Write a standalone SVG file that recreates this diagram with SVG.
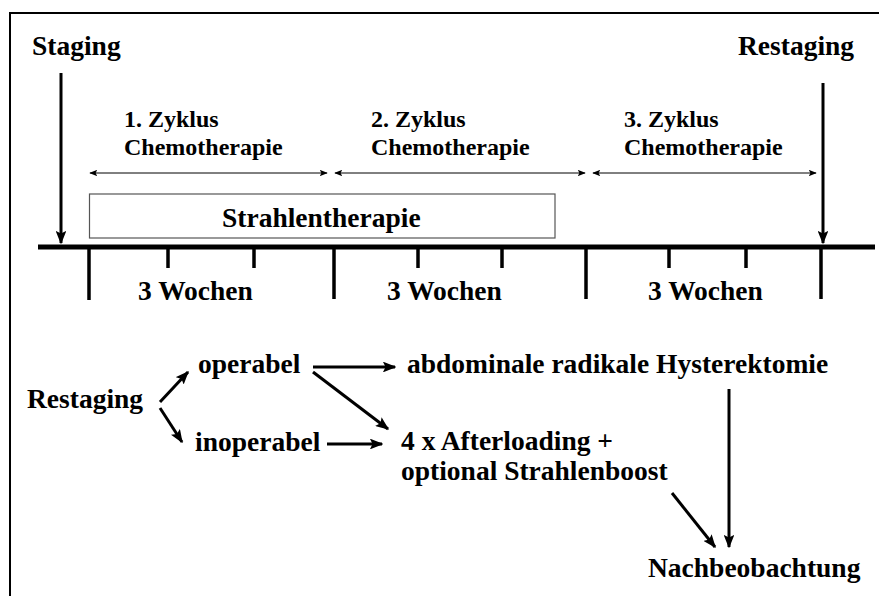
<svg xmlns="http://www.w3.org/2000/svg" width="879" height="596" viewBox="0 0 879 596">
<style>
text{font-family:"Liberation Serif","Times New Roman",serif;font-weight:bold;fill:#000}
.big{font-size:27.5px}
.mid{font-size:24px}
.thick{stroke:#000;stroke-width:3;fill:none}
.thin{stroke:#000;stroke-width:1;fill:none}
.tick{stroke:#000;stroke-width:3.5}
</style>
<defs>
<marker id="ah" viewBox="0 0 10 8" refX="9" refY="4" markerWidth="4.5" markerHeight="3.6" orient="auto" markerUnits="strokeWidth">
<path d="M0,0 L10,4 L0,8 L2,4 Z" fill="#000"/>
</marker>
<marker id="ahs" viewBox="0 0 10 8" refX="9" refY="4" markerWidth="8" markerHeight="6.4" orient="auto-start-reverse" markerUnits="strokeWidth">
<path d="M0,0 L10,4 L0,8 L2,4 Z" fill="#000"/>
</marker>
</defs>
<path d="M10,596 V13 H879" stroke="#000" stroke-width="2" fill="none"/>

<g id="timeline">
<line x1="38" y1="247" x2="875" y2="247" stroke="#000" stroke-width="5"/>
<line class="tick" x1="89" y1="247" x2="89" y2="300"/>
<line class="tick" x1="334" y1="247" x2="334" y2="299"/>
<line class="tick" x1="586" y1="247" x2="586" y2="299"/>
<line class="tick" x1="821" y1="247" x2="821" y2="299"/>
<line class="tick" x1="168" y1="247" x2="168" y2="268"/>
<line class="tick" x1="254" y1="247" x2="254" y2="268"/>
<line class="tick" x1="418" y1="247" x2="418" y2="268"/>
<line class="tick" x1="502" y1="247" x2="502" y2="268"/>
<line class="tick" x1="669" y1="247" x2="669" y2="268"/>
<line class="tick" x1="746" y1="247" x2="746" y2="268"/>
</g>

<g id="staging"><text class="big" x="32" y="55">Staging</text></g>
<g id="restaging-top"><text class="big" x="738" y="55">Restaging</text></g>

<g id="zyklus1"><text class="mid" x="124" y="127">1. Zyklus</text><text class="mid" x="124" y="155">Chemotherapie</text></g>
<g id="zyklus2"><text class="mid" x="371" y="127">2. Zyklus</text><text class="mid" x="371" y="155">Chemotherapie</text></g>
<g id="zyklus3"><text class="mid" x="624" y="127">3. Zyklus</text><text class="mid" x="624" y="155">Chemotherapie</text></g>

<g id="strahlentherapie">
<rect x="89.5" y="194" width="465.5" height="44" fill="#fff" stroke="#555" stroke-width="1.2"/>
<text class="big" x="222" y="227">Strahlentherapie</text>
</g>

<g id="wochen">
<text class="big" x="138" y="300">3 Wochen</text>
<text class="big" x="387" y="300">3 Wochen</text>
<text class="big" x="648" y="300">3 Wochen</text>
</g>

<g id="restaging-bottom"><text class="big" x="27" y="408">Restaging</text></g>
<g id="operabel"><text class="big" x="198" y="373">operabel</text></g>
<g id="inoperabel"><text class="big" x="195" y="451">inoperabel</text></g>
<g id="hysterektomie"><text class="big" x="407" y="373">abdominale radikale Hysterektomie</text></g>
<g id="afterloading"><text class="big" x="401" y="450">4 x Afterloading +</text><text class="big" x="401" y="480">optional Strahlenboost</text></g>
<g id="nachbeobachtung"><text class="big" x="648" y="577">Nachbeobachtung</text></g>

<g id="connectors">
<line class="thick" x1="61" y1="73" x2="61" y2="243" marker-end="url(#ah)"/>
<line class="thick" x1="823" y1="83" x2="823" y2="243" marker-end="url(#ah)"/>
<line class="thin" x1="90" y1="173" x2="327" y2="173" marker-start="url(#ahs)" marker-end="url(#ahs)"/>
<line class="thin" x1="335" y1="173" x2="585" y2="173" marker-start="url(#ahs)" marker-end="url(#ahs)"/>
<line class="thin" x1="593" y1="173" x2="816" y2="173" marker-start="url(#ahs)" marker-end="url(#ahs)"/>
<line class="thick" x1="160" y1="402" x2="188" y2="372" marker-end="url(#ah)"/>
<line class="thick" x1="160" y1="408" x2="182" y2="442" marker-end="url(#ah)"/>
<line class="thick" x1="313" y1="367" x2="395" y2="367" marker-end="url(#ah)"/>
<line class="thick" x1="313" y1="372" x2="388" y2="429" marker-end="url(#ah)"/>
<line class="thick" x1="327" y1="444" x2="382" y2="444" marker-end="url(#ah)"/>
<line class="thick" x1="672" y1="493" x2="715" y2="547" marker-end="url(#ah)"/>
<line class="thick" x1="729" y1="389" x2="729" y2="547" marker-end="url(#ah)"/>
</g>
</svg>
